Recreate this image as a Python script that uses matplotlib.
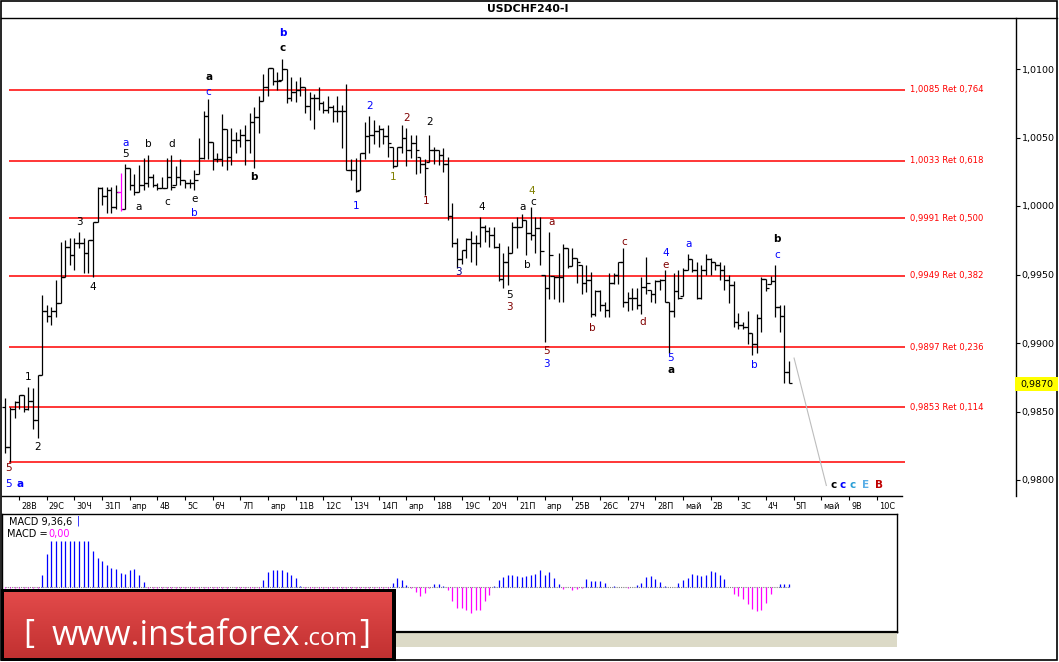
import numpy as np
import matplotlib
matplotlib.use('Agg')
import matplotlib.pyplot as plt
from matplotlib.patches import Rectangle
from matplotlib.colors import LinearSegmentedColormap

W, H, DPI = 1059, 662, 100

## USDCHF H4 bars
first_open = 0.9853
highs = [0.9860, 0.9853, 0.9858, 0.9862, 0.9862, 0.9868, 0.9867, 0.9877, 0.9935, 0.9928,
         0.9926, 0.9946, 0.9974, 0.9975, 0.9977, 0.9977, 0.9981, 0.9977, 0.9975, 0.9988,
         1.0014, 1.0014, 1.0014, 1.0014, 1.0015, 1.0024, 1.0031, 1.0028, 1.0023, 1.0030,
         1.0035, 1.0037, 1.0023, 1.0017, 1.0021, 1.0035, 1.0037, 1.0029, 1.0034, 1.0019,
         1.0020, 1.0026, 1.0050, 1.0069, 1.0078, 1.0047, 1.0039, 1.0067, 1.0056, 1.0057,
         1.0054, 1.0056, 1.0059, 1.0068, 1.0072, 1.0080, 1.0096, 1.0101, 1.0101, 1.0098,
         1.0107, 1.0100, 1.0094, 1.0091, 1.0094, 1.0087, 1.0083, 1.0082, 1.0087, 1.0077,
         1.0080, 1.0074, 1.0080, 1.0074, 1.0089, 1.0034, 1.0035, 1.0039, 1.0061, 1.0066,
         1.0063, 1.0059, 1.0057, 1.0059, 1.0043, 1.0043, 1.0059, 1.0057, 1.0052, 1.0052,
         1.0036, 1.0034, 1.0052, 1.0043, 1.0041, 1.0042, 1.0036, 1.0002, 0.9977, 0.9968,
         0.9977, 0.9982, 0.9979, 0.9992, 0.9986, 0.9985, 0.9985, 0.9973, 0.9966, 0.9971,
         0.9988, 0.9992, 0.9994, 0.9990, 0.9999, 0.9992, 0.9992, 0.9950, 0.9981, 0.9949,
         0.9966, 0.9972, 0.9969, 0.9969, 0.9962, 0.9957, 0.9957, 0.9952, 0.9939, 0.9939,
         0.9930, 0.9951, 0.9951, 0.9959, 0.9969, 0.9937, 0.9940, 0.9940, 0.9948, 0.9963,
         0.9939, 0.9946, 0.9947, 0.9953, 0.9930, 0.9951, 0.9953, 0.9955, 0.9965, 0.9961,
         0.9959, 0.9957, 0.9965, 0.9962, 0.9959, 0.9959, 0.9957, 0.9950, 0.9945, 0.9922,
         0.9915, 0.9923, 0.9907, 0.9921, 0.9948, 0.9947, 0.9949, 0.9957, 0.9928, 0.9928,
         0.9887]
lows = [0.9820, 0.9813, 0.9845, 0.9852, 0.9850, 0.9851, 0.9837, 0.9831, 0.9877, 0.9915,
        0.9913, 0.9919, 0.9929, 0.9948, 0.9957, 0.9953, 0.9969, 0.9951, 0.9951, 0.9948,
        0.9988, 1.0001, 0.9995, 0.9995, 0.9998, 0.9996, 0.9998, 1.0012, 1.0008, 1.0010,
        1.0012, 1.0014, 1.0014, 1.0012, 1.0013, 1.0013, 1.0012, 1.0015, 1.0015, 1.0013,
        1.0013, 1.0012, 1.0023, 1.0034, 1.0034, 1.0026, 1.0032, 1.0029, 1.0026, 1.0030,
        1.0039, 1.0043, 1.0030, 1.0039, 1.0028, 1.0053, 1.0077, 1.0080, 1.0088, 1.0085,
        1.0092, 1.0075, 1.0077, 1.0076, 1.0080, 1.0068, 1.0063, 1.0056, 1.0070, 1.0068,
        1.0068, 1.0061, 1.0061, 1.0042, 1.0026, 1.0019, 1.0010, 1.0012, 1.0034, 1.0039,
        1.0045, 1.0043, 1.0045, 1.0036, 1.0028, 1.0029, 1.0039, 1.0029, 1.0035, 1.0023,
        1.0024, 1.0008, 1.0032, 1.0031, 1.0030, 1.0025, 0.9990, 0.9970, 0.9955, 0.9958,
        0.9962, 0.9959, 0.9957, 0.9970, 0.9974, 0.9970, 0.9969, 0.9945, 0.9940, 0.9942,
        0.9966, 0.9969, 0.9985, 0.9964, 0.9975, 0.9966, 0.9957, 0.9901, 0.9932, 0.9932,
        0.9930, 0.9930, 0.9955, 0.9956, 0.9944, 0.9936, 0.9937, 0.9919, 0.9920, 0.9923,
        0.9919, 0.9919, 0.9943, 0.9943, 0.9926, 0.9923, 0.9924, 0.9925, 0.9921, 0.9936,
        0.9930, 0.9929, 0.9939, 0.9930, 0.9893, 0.9919, 0.9932, 0.9934, 0.9953, 0.9952,
        0.9932, 0.9932, 0.9950, 0.9950, 0.9953, 0.9946, 0.9939, 0.9929, 0.9912, 0.9910,
        0.9910, 0.9899, 0.9891, 0.9893, 0.9908, 0.9938, 0.9943, 0.9919, 0.9908, 0.9871,
        0.9871]
closes = [0.9824, 0.9852, 0.9857, 0.9862, 0.9852, 0.9858, 0.9844, 0.9877, 0.9923, 0.9920,
          0.9923, 0.9929, 0.9948, 0.9970, 0.9964, 0.9973, 0.9973, 0.9966, 0.9975, 0.9988,
          1.0013, 1.0007, 1.0012, 0.9999, 1.0010, 0.9998, 1.0028, 1.0015, 1.0010, 1.0015,
          1.0017, 1.0021, 1.0015, 1.0013, 1.0013, 1.0021, 1.0014, 1.0021, 1.0019, 1.0017,
          1.0017, 1.0019, 1.0035, 1.0066, 1.0047, 1.0034, 1.0034, 1.0056, 1.0036, 1.0048,
          1.0048, 1.0052, 1.0048, 1.0061, 1.0065, 1.0077, 1.0087, 1.0101, 1.0091, 1.0091,
          1.0100, 1.0079, 1.0083, 1.0085, 1.0087, 1.0073, 1.0079, 1.0079, 1.0075, 1.0070,
          1.0072, 1.0069, 1.0069, 1.0069, 1.0026, 1.0026, 1.0011, 1.0039, 1.0051, 1.0052,
          1.0055, 1.0056, 1.0051, 1.0046, 1.0029, 1.0043, 1.0050, 1.0041, 1.0046, 1.0041,
          1.0031, 1.0028, 1.0041, 1.0041, 1.0037, 1.0031, 0.9993, 0.9973, 0.9961, 0.9968,
          0.9976, 0.9973, 0.9973, 0.9985, 0.9982, 0.9979, 0.9970, 0.9947, 0.9959, 0.9966,
          0.9985, 0.9985, 0.9990, 0.9980, 0.9979, 0.9984, 0.9967, 0.9940, 0.9964, 0.9948,
          0.9948, 0.9969, 0.9956, 0.9962, 0.9959, 0.9944, 0.9946, 0.9921, 0.9938, 0.9928,
          0.9924, 0.9944, 0.9950, 0.9959, 0.9930, 0.9933, 0.9933, 0.9928, 0.9941, 0.9944,
          0.9936, 0.9945, 0.9946, 0.9930, 0.9923, 0.9938, 0.9933, 0.9953, 0.9961, 0.9953,
          0.9933, 0.9953, 0.9961, 0.9959, 0.9957, 0.9953, 0.9946, 0.9942, 0.9915, 0.9913,
          0.9912, 0.9907, 0.9899, 0.9918, 0.9947, 0.9940, 0.9945, 0.9926, 0.9920, 0.9879,
          0.9871]
magenta_bar = 25

## MACD 9,36,6 histogram (screen units)
macd_hist = ([-0.7] * 8 + [12.3, 33] + [46] * 9 +
             [35.7, 29, 25.7, 22.3, 19, 18, 14, 13.3, 17.3, 18.3, 12.3, 4.7] +
             [-0.7] * 18 + [0] + [-0.7] * 6 +
             [7.3, 14.7, 16.7, 17.3, 17.3, 14.7, 12.3, 9, 0.7] +
             [-0.7] * 19 +
             [4, 9, 6.7, 2.3, -1.3, -5.3, -8.7, -6, -1, 3.3, 3.3, 1.3, -2.7, -14.3, -21, -21,
              -23.3, -26, -22.7, -22.7, -14.3, -7.7, 0.7, 7.3, 10, 12.3, 12.3, 11.3, 10, 11] +
             [12.3, 13.3, 17.3, 12.3, 14.7, 9, 3.3, -2, 0, -3.3, -2, -1.3, 8, 6.3, 6.3, 6.3,
              4, 0.3, 1, 0, 0, -1.3, 0, 2, 4, 10, 11.3, 8, 5, 1.3, 0, 0, 4, 7.3, 9, 13.3,
              12.3, 11.3, 12.3, 16.3, 15.3, 12.3, 8.3, 0, -6.7, -9.3, -11.7, -16.7, -21.7,
              -24.3, -22.7, -16, -6.7, 0, 3.3, 3.3, 3.0])

fib_levels = [1.0085, 1.0033, 0.9991, 0.9949, 0.9897, 0.9853, 0.9813]
fib_ratios = ['0,764', '0,618', '0,500', '0,382', '0,236', '0,114', None]
price_ticks = [1.0100, 1.0050, 1.0000, 0.9950, 0.9900, 0.9850, 0.9800]
last_price = 0.9870

day_labels = ['28В', '29С', '30Ч', '31П', 'апр', '4В', '5С', '6Ч', '7П', 'апр', '11В', '12С',
              '13Ч', '14П', 'апр', '18В', '19С', '20Ч', '21П', 'апр', '25В', '26С', '27Ч',
              '28П', 'май', '2В', '3С', '4Ч', '5П', 'май', '9В', '10С']

projection_x = [171.1, 178.1]
projection_y = [0.9889, 0.9796]

BLK, BLU, MAR, OLV, NAV = 'black', '#0000ff', '#800000', '#808000', '#000080'
wave_labels = [
    ('b', 60.2, 1.0126, BLU, True), ('c', 60.2, 1.0115, BLK, True),
    ('a', 44.2, 1.0094, BLK, True), ('c', 44.0, 1.0083, BLU, False),
    ('a', 26.0, 1.0046, BLU, False), ('5', 26.0, 1.0038, BLK, False),
    ('b', 31.0, 1.0045, BLK, False), ('d', 36.2, 1.0045, BLK, False),
    ('a', 29.0, 0.9999, BLK, False), ('c', 35.1, 1.0003, BLK, False),
    ('e', 41.0, 1.0005, BLK, False), ('b', 41.0, 0.9995, BLU, False),
    ('b', 54.0, 1.0021, BLK, True), ('1', 76.1, 1.0000, BLU, False),
    ('2', 79.1, 1.0073, BLU, False), ('2', 87.1, 1.0064, MAR, False),
    ('1', 84.1, 1.0021, OLV, False), ('2', 92.1, 1.0061, BLK, False),
    ('1', 91.3, 1.0004, MAR, False), ('3', 16.0, 0.9988, BLK, False),
    ('4', 19.0, 0.9941, BLK, False), ('1', 4.9, 0.9875, BLK, False),
    ('2', 6.9, 0.9824, BLK, False), ('5', 0.8, 0.9809, MAR, False),
    ('5', 0.6, 0.9797, BLU, False), ('a', 3.2, 0.9797, BLU, True),
    ('3', 98.4, 0.9952, NAV, False), ('4', 103.4, 0.9999, BLK, False),
    ('a', 112.3, 0.9999, BLK, False), ('c', 114.5, 1.0003, BLK, False),
    ('4', 114.3, 1.0011, OLV, False), ('b', 113.2, 0.9957, BLK, False),
    ('a', 118.4, 0.9988, MAR, False), ('5', 109.3, 0.9935, BLK, False),
    ('3', 109.3, 0.9926, MAR, False), ('5', 117.3, 0.9894, MAR, False),
    ('3', 117.3, 0.9885, BLU, False), ('b', 127.3, 0.9911, MAR, False),
    ('c', 134.2, 0.9974, MAR, False), ('d', 138.3, 0.9915, MAR, False),
    ('4', 143.3, 0.9966, BLU, False), ('e', 143.3, 0.9957, MAR, False),
    ('5', 144.4, 0.9889, BLU, False), ('a', 144.4, 0.9880, BLK, True),
    ('a', 148.3, 0.9972, BLU, False), ('b', 162.4, 0.9884, BLU, False),
    ('c', 167.4, 0.9964, BLU, False), ('b', 167.4, 0.9976, BLK, True),
    ('c', 179.6, 0.9796, BLK, True), ('c', 181.7, 0.9796, BLU, True),
    ('c', 183.7, 0.9796, '#2a9fd6', True), ('E', 186.7, 0.9796, '#5aaee6', True),
    ('B', 189.5, 0.9796, '#c00000', True),
]

## screen layout calibration (pixels of the 1059x662 screenshot)
X0, DX = 5.3, 4.61                       # first bar x and bar spacing
Y_REF, PX_PER_PRICE = 206.0, 68.5 / 0.005  # 1,0000 sits at y=206


def px2idx(x):
    return (x - X0) / DX


def py2price(y):
    return 1.0 + (Y_REF - y) / PX_PER_PRICE


def price2py(p):
    return Y_REF - (p - 1.0) * PX_PER_PRICE


def rect(x0, y0, x1, y1):
    return [x0 / W, 1 - y1 / H, (x1 - x0) / W, (y1 - y0) / H]


def comma(p):
    return ('%.4f' % p).replace('.', ',')


fig = plt.figure(figsize=(W / DPI, H / DPI), dpi=DPI)
fig.patch.set_facecolor('white')

## main price chart
ax = fig.add_axes(rect(2, 18, 1016, 496))
ax.set_xlim(px2idx(2), px2idx(1016))
ax.set_ylim(py2price(496), py2price(18))
for s in ['top', 'left', 'bottom']:
    ax.spines[s].set_visible(False)
ax.spines['right'].set_linewidth(1.0)
ax.set_xticks([])
ax.yaxis.tick_right()
ax.set_yticks(price_ticks)
ax.set_yticklabels([comma(p) for p in price_ticks], fontsize=6.8)
ax.tick_params(axis='y', length=3, width=0.8, pad=1)

n = len(closes)
idx = np.arange(n)
opens = np.clip([first_open] + closes[:-1], lows, highs)
cols = ['black'] * n
cols[magenta_bar] = '#ff00ff'
ax.hlines(fib_levels, px2idx(9), px2idx(905), color='#ff0000', lw=1.1, zorder=1)
ax.vlines(idx, lows, highs, colors=cols, lw=0.9, zorder=3)
ax.hlines(closes, idx, idx + 0.75, colors=cols, lw=0.9, zorder=3)
ax.hlines(opens, idx - 0.75, idx, colors=cols, lw=0.9, zorder=3)

for lvl, r in zip(fib_levels, fib_ratios):
    if r:
        ax.text(px2idx(910), lvl, comma(lvl) + ' Ret ' + r, color='#ff0000',
                fontsize=6.1, va='center', ha='left')

ax.plot(projection_x, projection_y, color='#bdbdbd', lw=0.8)

for txt, xi, p, c, b in wave_labels:
    ax.text(xi, p, txt, color=c, fontsize=7.5, ha='center', va='center',
            fontweight='bold' if b else 'normal', zorder=4)

## date scale
axd = fig.add_axes(rect(2, 496, 902, 514))
axd.set_xlim(px2idx(2), px2idx(902))
axd.set_ylim(0, 1)
for s in ['left', 'right', 'bottom']:
    axd.spines[s].set_visible(False)
axd.spines['top'].set_linewidth(1.0)
day_idx = [3 + 6 * k for k in range(len(day_labels))]
axd.set_xticks(day_idx)
axd.xaxis.tick_top()
axd.tick_params(axis='x', direction='in', length=3, width=0.8, labeltop=False)
axd.set_yticks([])
for i, lab in zip(day_idx, day_labels):
    axd.text(i + 0.45, 0.42, lab, fontsize=5.9, va='center', ha='left')

## MACD window
axm = fig.add_axes(rect(2, 514, 897, 632))
axm.set_xlim(px2idx(2), px2idx(897))
axm.set_ylim(-45, 73)
axm.set_xticks([])
axm.set_yticks([])
for s in axm.spines.values():
    s.set_linewidth(1.0)
macd = np.array(macd_hist)
mcol = np.where(macd >= 0, '#0000ff', '#ff00ff')
axm.hlines(0, 0, n - 1, colors='#808080', lw=0.8, linestyles=(0, (1, 1)))
axm.vlines(np.arange(len(macd)), 0, macd, colors=mcol, lw=0.9)

## overlay: frame, title, labels, watermark
ov = fig.add_axes([0, 0, 1, 1], zorder=10)
ov.axis('off')
ov.add_patch(Rectangle((1, 1), 1056, 659, fill=False, ec='black', lw=1.2))
ov.plot([1, 1057], [18, 18], color='black', lw=1.0)
ov.text(528, 9.5, 'USDCHF240-I', ha='center', va='center', fontsize=7.8, fontweight='bold')

ov.text(9, 522, 'MACD 9,36,6', fontsize=7, va='center', ha='left')
ov.text(77, 521, '|', fontsize=7, va='center', ha='left', color='#0000ff')
ov.text(7, 534, 'MACD =', fontsize=7, va='center', ha='left')
ov.text(48, 534, '0,00', fontsize=7, va='center', ha='left', color='#ff00ff')

ov.add_patch(Rectangle((2, 632), 895, 15, fc='#dcdac7', ec='none'))
ov.plot([2, 897], [632, 632], color='black', lw=1.6)

# current price marker
yp = price2py(last_price)
ov.add_patch(Rectangle((1015, yp - 7), 43, 14, fc='#ffff00', ec='none'))
ov.text(1020, yp, comma(last_price), fontsize=6.8, va='center', ha='left')

# instaforex watermark
ov.add_patch(Rectangle((0.5, 589), 395.5, 72, fc='black', ec='none', zorder=1))
grad = np.linspace(0, 1, 64)[:, None]
wm = LinearSegmentedColormap.from_list('wm', ['#e24a4a', '#c23131'])
ov.imshow(grad, extent=(4, 392, 658, 592), cmap=wm, aspect='auto', origin='upper', zorder=2)
ov.set_xlim(0, W)
ov.set_ylim(H, 0)

renderer = fig.canvas.get_renderer()


def fit_text(x, y, s, width, **kw):
    t = ov.text(x, y, s, **kw)
    bb = t.get_window_extent(renderer)
    t.set_fontsize(t.get_fontsize() * width / bb.width)
    return t


wkw = dict(color='white', family='Open Sans', va='baseline', ha='left', fontsize=26, zorder=3)
fit_text(52, 645, 'www.instaforex', 250, **wkw)
fit_text(302, 645, '.com', 55, **wkw)
ov.text(23, 643, '[', color='white', family='Open Sans', va='baseline', ha='left', fontsize=24, zorder=3)
ov.text(359, 643, ']', color='white', family='Open Sans', va='baseline', ha='left', fontsize=24, zorder=3)

fig.savefig('out.png', dpi=DPI)
